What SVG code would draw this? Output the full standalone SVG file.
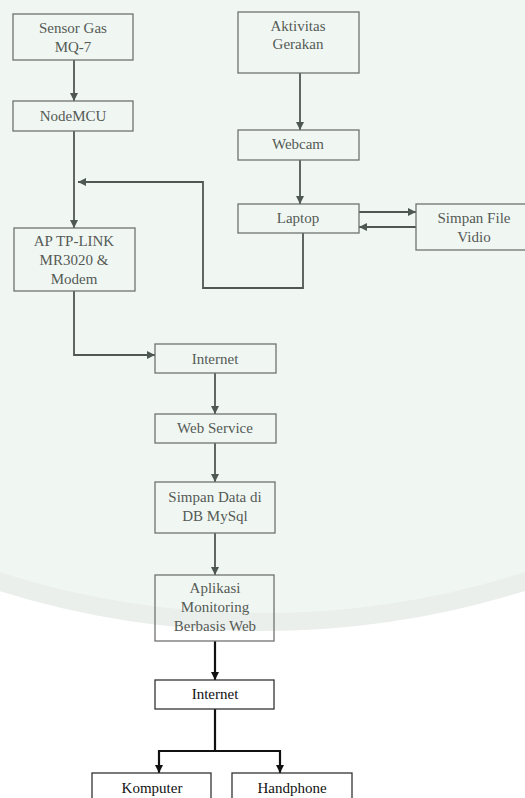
<svg xmlns="http://www.w3.org/2000/svg" width="525" height="798" viewBox="0 0 525 798">
<defs>
<style>
.bx{fill:none;stroke:#6f7370;stroke-width:1.3}
.bk{fill:none;stroke:#333;stroke-width:1.3}
.c{fill:none;stroke:#4e5752;stroke-width:1.8}
.ck{fill:none;stroke:#111;stroke-width:2.2}
</style>
<marker id="ah" viewBox="0 0 10 10" refX="10" refY="5" markerWidth="9" markerHeight="8" markerUnits="userSpaceOnUse" orient="auto">
<path d="M0,0 L10,5 L0,10 z" fill="#4e5752"/>
</marker>
<marker id="ak" viewBox="0 0 10 10" refX="10" refY="5" markerWidth="9" markerHeight="8" markerUnits="userSpaceOnUse" orient="auto">
<path d="M0,0 L10,5 L0,10 z" fill="#111"/>
</marker>
</defs>
<rect x="0" y="0" width="525" height="798" fill="#ffffff"/>
<circle cx="262" cy="-250" r="872" fill="#f0f7f3" stroke="#ebefec" stroke-width="18"/>

<g id="connectors">
<path class="c" d="M74,60 V101" marker-end="url(#ah)"/>
<path class="c" d="M74,131 V228" marker-end="url(#ah)"/>
<path class="c" d="M303,233 V288 H203 V182 H78" marker-end="url(#ah)"/>
<path class="c" d="M300,73 V130" marker-end="url(#ah)"/>
<path class="c" d="M300,160 V204" marker-end="url(#ah)"/>
<path class="c" d="M359,212 H416" marker-end="url(#ah)"/>
<path class="c" d="M416,227 H359" marker-end="url(#ah)"/>
<path class="c" d="M74,291 V355 H155" marker-end="url(#ah)"/>
<path class="c" d="M215,373 V414" marker-end="url(#ah)"/>
<path class="c" d="M215,443 V482" marker-end="url(#ah)"/>
<path class="c" d="M215,533 V575" marker-end="url(#ah)"/>
<path class="ck" d="M215,641 V680" marker-end="url(#ak)"/>
<path class="ck" d="M215,709 V751"/>
<path class="ck" d="M159,751 H280"/>
<path class="ck" d="M159,750 V773" marker-end="url(#ak)"/>
<path class="ck" d="M280,750 V773" marker-end="url(#ak)"/>
</g>

<g font-family="Liberation Serif, DejaVu Serif, serif" font-size="15" text-anchor="middle" fill="#555a55">
<g id="sensor">
<rect class="bx" x="13" y="14" width="120" height="46"/>
<text x="73" y="33">Sensor Gas</text>
<text x="73" y="52">MQ-7</text>
</g>
<g id="nodemcu">
<rect class="bx" x="13" y="101" width="120" height="30"/>
<text x="73" y="121">NodeMCU</text>
</g>
<g id="ap">
<rect class="bx" x="14" y="228" width="121" height="63"/>
<text x="74" y="246">AP TP-LINK</text>
<text x="74" y="265">MR3020 &amp;</text>
<text x="74" y="284">Modem</text>
</g>
<g id="aktivitas">
<rect class="bx" x="238" y="12" width="121" height="61"/>
<text x="298" y="31">Aktivitas</text>
<text x="298" y="49">Gerakan</text>
</g>
<g id="webcam">
<rect class="bx" x="238" y="130" width="121" height="30"/>
<text x="298" y="149">Webcam</text>
</g>
<g id="laptop">
<rect class="bx" x="238" y="204" width="121" height="29"/>
<text x="298" y="223">Laptop</text>
</g>
<g id="simpanfile">
<rect class="bx" x="416" y="204" width="110" height="46"/>
<text x="474" y="223">Simpan File</text>
<text x="474" y="242">Vidio</text>
</g>
<g id="internet1">
<rect class="bx" x="155" y="344" width="121" height="29"/>
<text x="215" y="364">Internet</text>
</g>
<g id="webservice">
<rect class="bx" x="155" y="414" width="121" height="29"/>
<text x="215" y="433">Web Service</text>
</g>
<g id="simpandata">
<rect class="bx" x="155" y="482" width="120" height="51"/>
<text x="215" y="502">Simpan Data di</text>
<text x="215" y="521">DB MySql</text>
</g>
<g id="aplikasi">
<rect class="bx" x="155" y="575" width="119" height="66"/>
<text x="215" y="593">Aplikasi</text>
<text x="215" y="612">Monitoring</text>
<text x="215" y="631">Berbasis Web</text>
</g>
<g id="internet2" fill="#111">
<rect class="bk" x="155" y="680" width="119" height="29"/>
<text x="215" y="699">Internet</text>
</g>
<g id="komputer" fill="#111">
<rect class="bk" x="92" y="773" width="119" height="40"/>
<text x="152" y="793">Komputer</text>
</g>
<g id="handphone" fill="#111">
<rect class="bk" x="232" y="773" width="120" height="40"/>
<text x="292" y="793">Handphone</text>
</g>
</g>
</svg>
